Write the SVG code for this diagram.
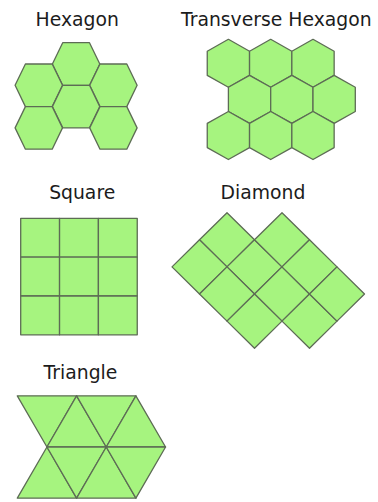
<svg xmlns="http://www.w3.org/2000/svg" xmlns:xlink="http://www.w3.org/1999/xlink" width="378" height="502" viewBox="0 0 378 502">
<style>
.t{fill:#a6f47f;stroke:#5d6c55;stroke-width:1.3;stroke-linejoin:round}
.lbl{font-family:"DejaVu Sans","Liberation Sans",sans-serif;font-size:18.8px;fill:#1c1c1c;text-anchor:middle}
</style>
<defs>
<polygon id="fh" class="t" points="-23.7,0 -13.4,-21.3 13.4,-21.3 23.7,0 13.4,21.3 -13.4,21.3"/>
<polygon id="ph" class="t" points="0,-24 21.15,-12.1 21.15,12.1 0,24 -21.15,12.1 -21.15,-12.1"/>
<rect id="sq" class="t" width="38.85" height="38.85"/>
</defs>
<rect width="378" height="502" fill="#ffffff"/>
<g id="connectors"/>
<g id="hexagon">
<text class="lbl" x="77.2" y="26">Hexagon</text>
<use href="#fh" x="76.1" y="64"/>
<use href="#fh" x="38.8" y="85.3"/>
<use href="#fh" x="113.4" y="85.3"/>
<use href="#fh" x="76.1" y="106.6"/>
<use href="#fh" x="38.8" y="127.9"/>
<use href="#fh" x="113.4" y="127.9"/>
</g>
<g id="transverse-hexagon">
<text class="lbl" x="276.3" y="26">Transverse Hexagon</text>
<use href="#ph" x="228.4" y="63.3"/>
<use href="#ph" x="270.7" y="63.3"/>
<use href="#ph" x="313" y="63.3"/>
<use href="#ph" x="249.55" y="99.4"/>
<use href="#ph" x="291.85" y="99.4"/>
<use href="#ph" x="334.15" y="99.4"/>
<use href="#ph" x="228.4" y="135.5"/>
<use href="#ph" x="270.7" y="135.5"/>
<use href="#ph" x="313" y="135.5"/>
</g>
<g id="square">
<text class="lbl" x="82.2" y="198.6">Square</text>
<use href="#sq" x="20.7" y="218.3"/>
<use href="#sq" x="59.55" y="218.3"/>
<use href="#sq" x="98.4" y="218.3"/>
<use href="#sq" x="20.7" y="257.15"/>
<use href="#sq" x="59.55" y="257.15"/>
<use href="#sq" x="98.4" y="257.15"/>
<use href="#sq" x="20.7" y="296"/>
<use href="#sq" x="59.55" y="296"/>
<use href="#sq" x="98.4" y="296"/>
</g>
<g id="diamond">
<text class="lbl" x="263" y="198.8">Diamond</text>
<polygon class="t" points="227,212.7 254.5,239.8 227,266.9 199.5,239.8"/>
<polygon class="t" points="254.5,239.8 282,266.9 254.5,294 227,266.9"/>
<polygon class="t" points="282,266.9 309.5,294 282,321.1 254.5,294"/>
<polygon class="t" points="309.5,294 337,321.1 309.5,348.2 282,321.1"/>
<polygon class="t" points="199.5,239.8 227,266.9 199.5,294 172,266.9"/>
<polygon class="t" points="227,266.9 254.5,294 227,321.1 199.5,294"/>
<polygon class="t" points="254.5,294 282,321.1 254.5,348.2 227,321.1"/>
<polygon class="t" points="282,212.7 309.5,239.8 282,266.9 254.5,239.8"/>
<polygon class="t" points="309.5,239.8 337,266.9 309.5,294 282,266.9"/>
<polygon class="t" points="337,266.9 364.5,294 337,321.1 309.5,294"/>
</g>
<g id="triangle">
<text class="lbl" x="80.5" y="379">Triangle</text>
<polygon class="t" points="17.3,395.8 76.6,395.8 46.95,447"/>
<polygon class="t" points="76.6,395.8 46.95,447 106.25,447"/>
<polygon class="t" points="76.6,395.8 135.9,395.8 106.25,447"/>
<polygon class="t" points="135.9,395.8 106.25,447 165.55,447"/>
<polygon class="t" points="46.95,447 17.3,498.2 76.6,498.2"/>
<polygon class="t" points="46.95,447 106.25,447 76.6,498.2"/>
<polygon class="t" points="106.25,447 76.6,498.2 135.9,498.2"/>
<polygon class="t" points="106.25,447 165.55,447 135.9,498.2"/>
</g>
</svg>
